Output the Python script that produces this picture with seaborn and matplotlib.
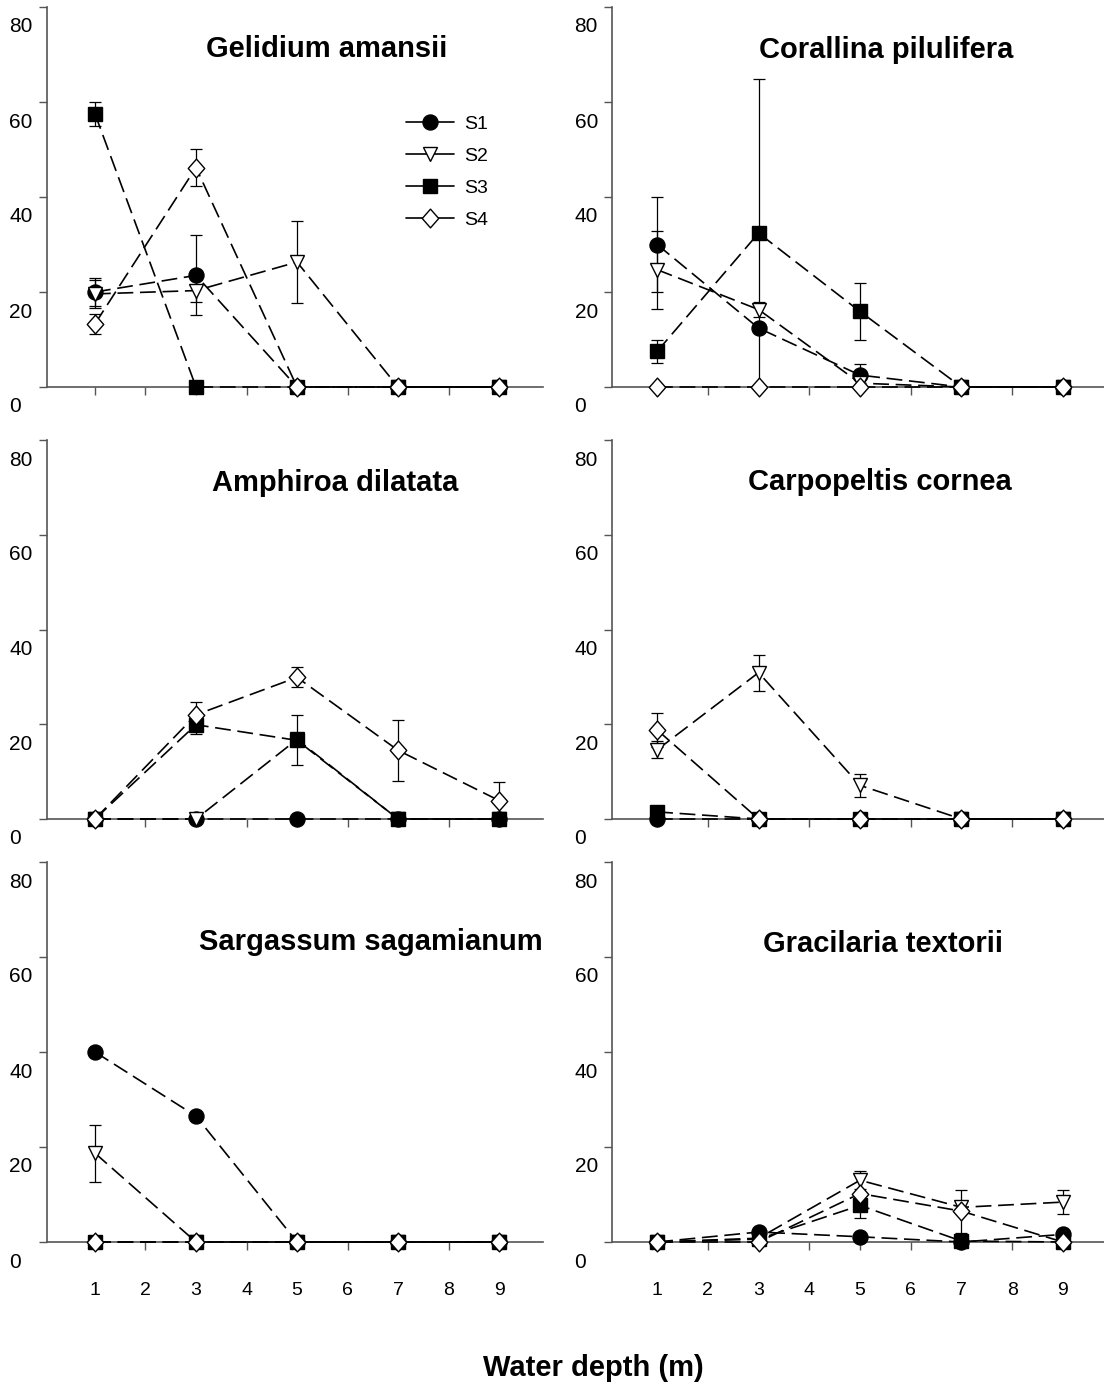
import matplotlib
matplotlib.use("Agg")
import matplotlib.pyplot as plt
import pandas as pd
import seaborn as sns
from matplotlib.lines import Line2D
from matplotlib.path import Path
from matplotlib.transforms import ScaledTranslation

# ---------------------------------------------------------------- data
depths = [1, 3, 5, 7, 9]
stations = ["S1", "S2", "S3", "S4"]
depth_ticks = [1, 2, 3, 4, 5, 6, 7, 8, 9]
cover_ticks = [0, 20, 40, 60, 80]
species = ["Gelidium amansii", "Corallina pilulifera", "Amphiroa dilatata",
           "Carpopeltis cornea", "Sargassum sagamianum", "Gracilaria textorii"]
x_label = "Water depth (m)"

# mean cover per station (rows S1..S4) at each depth, and its error
gelidium_mean = [[20.0, 23.5, 0, 0, 0],
                 [19.6, 20.3, 26.3, 0, 0],
                 [57.5, 0, 0, 0, 0],
                 [13.3, 46.2, 0, 0, 0]]
gelidium_err = [[3.0, 8.4, 0, 0, 0],
                [3.0, 2.5, 8.6, 0, 0],
                [2.5, 0, 0, 0, 0],
                [2.1, 3.9, 0, 0, 0]]

corallina_mean = [[30.0, 12.4, 2.5, 0, 0],
                  [24.7, 16.3, 0.8, 0, 0],
                  [7.5, 32.4, 15.9, 0, 0],
                  [0, 0, 0, 0, 0]]
corallina_err = [[10.0, 0, 2.4, 0, 0],
                 [8.2, 1.6, 0, 0, 0],
                 [2.4, 32.5, 6.0, 0, 0],
                 [0, 0, 0, 0, 0]]

amphiroa_mean = [[0, 0, 0, 0, 0],
                 [0, 0, 16.8, 0, 0],
                 [0, 19.9, 16.6, 0, 0],
                 [0, 22.0, 29.9, 14.5, 3.9]]
amphiroa_err = [[0, 0, 0, 0, 0],
                [0, 0, 0, 0, 0],
                [0, 2.0, 5.3, 0, 0],
                [0, 2.8, 2.1, 6.5, 4.0]]

carpopeltis_mean = [[0, 0, 0, 0, 0],
                    [14.6, 30.9, 7.1, 0, 0],
                    [1.5, 0, 0, 0, 0],
                    [18.8, 0, 0, 0, 0]]
carpopeltis_err = [[0, 0, 0, 0, 0],
                   [1.8, 3.8, 2.5, 0, 0],
                   [0, 0, 0, 0, 0],
                   [3.5, 0, 0, 0, 0]]

sargassum_mean = [[40.0, 26.5, 0, 0, 0],
                  [18.7, 0, 0, 0, 0],
                  [0, 0, 0, 0, 0],
                  [0, 0, 0, 0, 0]]
sargassum_err = [[0, 0, 0, 0, 0],
                 [6.0, 0, 0, 0, 0],
                 [0, 0, 0, 0, 0],
                 [0, 0, 0, 0, 0]]

gracilaria_mean = [[0, 2.1, 1.1, 0, 1.6],
                   [0, 0.8, 13.0, 7.3, 8.4],
                   [0, 0.6, 7.7, 0.2, 0],
                   [0, 0, 10.2, 6.5, 0]]
gracilaria_err = [[0, 0, 0, 0, 0],
                  [0, 0, 1.9, 0, 2.5],
                  [0, 0, 2.7, 0, 0],
                  [0, 0, 0, 4.5, 0]]

panel_means = [gelidium_mean, corallina_mean, amphiroa_mean,
               carpopeltis_mean, sargassum_mean, gracilaria_mean]
panel_errs = [gelidium_err, corallina_err, amphiroa_err,
              carpopeltis_err, sargassum_err, gracilaria_err]

# ---------------------------------------------------------------- style
sns.set_theme(style="white")
plt.rcParams["font.family"] = ["Liberation Sans", "DejaVu Sans"]
plt.rcParams["text.color"] = "black"
plt.rcParams["xtick.labelcolor"] = "black"
plt.rcParams["ytick.labelcolor"] = "black"

W, H = 1104, 1385
fig = plt.figure(figsize=(W / 100, H / 100), dpi=100)

AXIS_GREY = "#555555"
DASH = (0, (9.5, 4))
diamond = Path([(0, 1), (0.88, 0), (0, -1), (-0.88, 0), (0, 1)], closed=True)
marker_styles = {
    "S1": dict(marker="o", markersize=10.8, markerfacecolor="black"),
    "S2": dict(marker="v", markersize=10.5, markerfacecolor="white"),
    "S3": dict(marker="s", markersize=9.7, markerfacecolor="black"),
    "S4": dict(marker=diamond, markersize=13.5, markerfacecolor="white"),
}

# panel frames in pixels: (left, right) per column, (top, bottom) per row
columns = [(47, 543, 0.05), (612, 1107, 0.11)]
rows = [(7, 387), (440, 819), (862, 1242)]
title_centres = [(327, 49), (886, 50), (335, 483), (880, 482), (371, 942), (883, 944)]


def add_px_axes(left, right, top, bottom):
    return fig.add_axes([left / W, 1 - bottom / H, (right - left) / W, (bottom - top) / H])


label_shift = ScaledTranslation(0, -0.18, fig.dpi_scale_trans)

for i, name in enumerate(species):
    r, c = divmod(i, 2)
    left, right, x0 = columns[c]
    top, bottom = rows[r]
    ax = add_px_axes(left, right, top, bottom)

    means, errs = panel_means[i], panel_errs[i]
    for k, st in enumerate(stations):
        df = pd.DataFrame({"depth": depths, "cover": means[k], "err": errs[k]})
        sns.lineplot(data=df, x="depth", y="cover", ax=ax, color="black",
                     linewidth=1.2, linestyle=DASH, markeredgecolor="black",
                     markeredgewidth=1.0, errorbar=None, legend=False,
                     clip_on=False, zorder=3 + k, **marker_styles[st])
        bars = df[df["err"] > 0]
        if len(bars):
            ax.errorbar(bars["depth"], bars["cover"], yerr=bars["err"], fmt="none",
                        ecolor="black", elinewidth=0.9, capsize=4.5, capthick=0.9,
                        zorder=2)

    ax.set_xlim(x0, 9.87)
    ax.set_ylim(0, 80)
    ax.set_xticks(depth_ticks)
    ax.set_yticks(cover_ticks)
    ax.set_xlabel("")
    ax.set_ylabel("")
    sns.despine(ax=ax)
    for side in ("left", "bottom"):
        ax.spines[side].set_color(AXIS_GREY)
        ax.spines[side].set_linewidth(1.2)
    ax.tick_params(axis="both", direction="out", color=AXIS_GREY, width=1.0,
                   length=5.5, left=True, bottom=True, labelcolor="black")
    ax.tick_params(axis="y", labelsize=15, pad=21.5)
    if r == 2:
        ax.set_xticklabels([str(t) for t in depth_ticks])
        ax.tick_params(axis="x", labelsize=14, pad=23)
    else:
        ax.set_xticklabels([])
    for lbl in ax.get_yticklabels():
        lbl.set_horizontalalignment("left")
        lbl.set_transform(lbl.get_transform() + label_shift)

    tx, ty = title_centres[i]
    fig.text(tx / W, 1 - ty / H, name, ha="center", va="center",
             fontsize=21, fontweight="bold", color="black")

    if i == 0:
        handles = [Line2D([], [], color="black", linewidth=1.2,
                          markeredgecolor="black", markeredgewidth=1.0,
                          **marker_styles[st]) for st in stations]
        leg = ax.legend(handles, stations, loc="upper left",
                        bbox_to_anchor=(0.723, 0.716), frameon=False, fontsize=14,
                        handlelength=2.5, handletextpad=0.5, labelspacing=0.75,
                        borderpad=0, borderaxespad=0)
        for t in leg.get_texts():
            t.set_color("black")

fig.text(593 / W, 1 - 1376 / H, x_label, ha="center", va="baseline",
         fontsize=21, fontweight="bold", color="black")

fig.savefig("out.png", dpi=100)
